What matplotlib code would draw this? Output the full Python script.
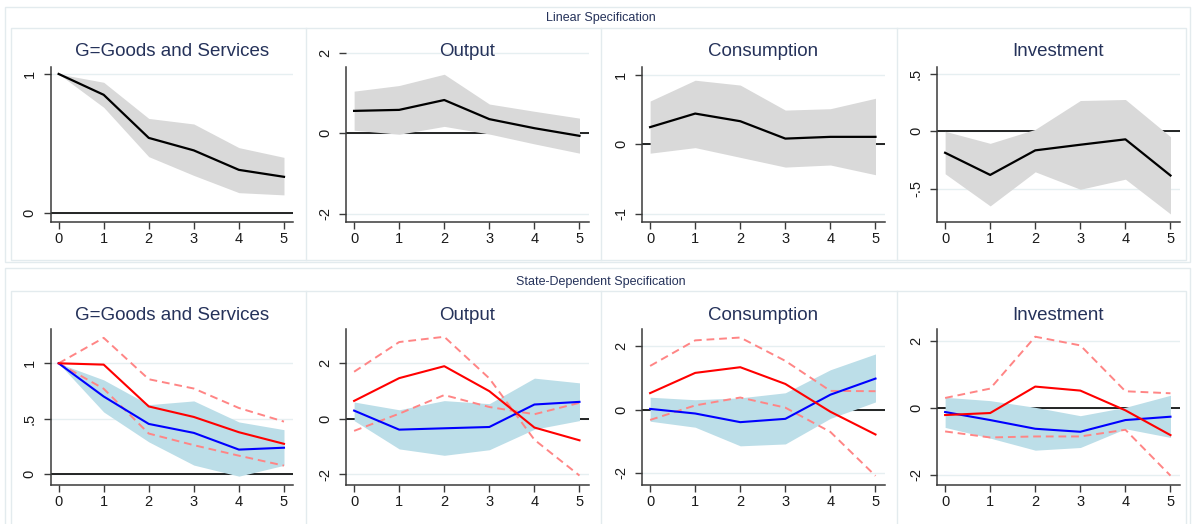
import matplotlib
matplotlib.use("Agg")
import matplotlib.pyplot as plt
from matplotlib.patches import Rectangle

plt.rcParams["font.family"] = ["Liberation Sans", "DejaVu Sans"]

W, H = 1192, 524
horizon = [0, 1, 2, 3, 4, 5]
titles = ["G=Goods and Services", "Output", "Consumption", "Investment"]

# ---- Linear specification: point estimate with confidence band ----
lin_irf = [
    [1.00, 0.85, 0.54, 0.45, 0.31, 0.26],
    [0.55, 0.575, 0.82, 0.345, 0.12, -0.07],
    [0.245, 0.44, 0.33, 0.08, 0.105, 0.105],
    [-0.187, -0.38, -0.166, -0.117, -0.07, -0.385],
]
lin_hi = [
    [1.00, 0.94, 0.68, 0.64, 0.47, 0.40],
    [1.04, 1.18, 1.46, 0.72, 0.54, 0.37],
    [0.62, 0.92, 0.85, 0.49, 0.51, 0.66],
    [0.00, -0.105, 0.017, 0.268, 0.277, -0.047],
]
lin_lo = [
    [1.00, 0.76, 0.405, 0.27, 0.146, 0.13],
    [0.07, -0.03, 0.165, -0.025, -0.27, -0.50],
    [-0.13, -0.05, -0.19, -0.33, -0.30, -0.44],
    [-0.37, -0.65, -0.353, -0.505, -0.417, -0.72],
]

# ---- State-dependent specification: two regimes ----
blue_irf = [
    [1.00, 0.70, 0.452, 0.371, 0.22, 0.237],
    [0.30, -0.386, -0.337, -0.29, 0.52, 0.615],
    [0.02, -0.126, -0.40, -0.295, 0.47, 0.98],
    [-0.12, -0.36, -0.62, -0.71, -0.36, -0.26],
]
blue_hi = [
    [1.00, 0.85, 0.626, 0.66, 0.47, 0.40],
    [0.61, 0.33, 0.66, 0.55, 1.47, 1.30],
    [0.39, 0.31, 0.37, 0.53, 1.26, 1.76],
    [0.32, 0.22, 0.02, -0.23, 0.02, 0.38],
]
blue_lo = [
    [1.00, 0.56, 0.29, 0.08, -0.02, 0.078],
    [-0.06, -1.08, -1.31, -1.11, -0.37, -0.06],
    [-0.37, -0.56, -1.15, -1.09, -0.28, 0.24],
    [-0.58, -0.90, -1.26, -1.18, -0.62, -0.88],
]
red_irf = [
    [1.00, 0.988, 0.61, 0.515, 0.377, 0.272],
    [0.65, 1.47, 1.90, 1.00, -0.31, -0.77],
    [0.52, 1.16, 1.34, 0.81, -0.07, -0.79],
    [-0.21, -0.15, 0.64, 0.52, -0.07, -0.81],
]
red_hi = [
    [1.00, 1.23, 0.856, 0.772, 0.596, 0.473],
    [1.70, 2.77, 2.96, 1.46, -0.75, -2.04],
    [1.38, 2.19, 2.28, 1.54, 0.59, 0.58],
    [0.30, 0.58, 2.13, 1.87, 0.50, 0.44],
]
red_lo = [
    [1.00, 0.77, 0.365, 0.26, 0.165, 0.075],
    [-0.43, 0.19, 0.86, 0.43, 0.17, 0.58],
    [-0.33, 0.13, 0.38, 0.06, -0.71, -2.10],
    [-0.70, -0.88, -0.85, -0.85, -0.65, -2.02],
]

lin_ticks = [[0, 1], [-2, 0, 2], [-1, 0, 1], [-0.5, 0, 0.5]]
lin_ticklabels = [["0", "1"], ["-2", "0", "2"], ["-1", "0", "1"], ["-.5", "0", ".5"]]
sd_ticks = [[0, 0.5, 1], [-2, 0, 2], [-2, 0, 2], [-2, 0, 2]]
sd_ticklabels = [["0", ".5", "1"], ["-2", "0", "2"], ["-2", "0", "2"], ["-2", "0", "2"]]

# axis limits and spine extents (y), per panel
lin_ylim = [(-0.065, 1.05), (-2.21, 2.07), (-1.12, 1.11), (-0.79, 0.56)]
lin_spine_top = [1.05, 1.64, 1.11, 0.56]
sd_ylim = [(-0.10, 1.31), (-2.38, 3.24), (-2.39, 2.55), (-2.30, 2.36)]
XLIM = (-0.18, 5.2)

NAVY = "#25325a"
FRAME = "#e3ebee"
GRID = "#e6eff1"
AXC = "#3a3a3a"

fig = plt.figure(figsize=(W / 100, H / 100), dpi=100)


def fx(px):
    return px / W


def fy(py):
    return 1 - py / H


def frame(x0, y0, x1, y1):
    fig.patches.append(Rectangle((fx(x0), fy(y1)), fx(x1) - fx(x0), fy(y0) - fy(y1),
                                 transform=fig.transFigure, fill=False,
                                 edgecolor=FRAME, linewidth=1.0, zorder=0))


# group frames and panel boxes
frame(5, 7, 1190, 262)
frame(11, 28, 1186, 260)
frame(5, 268, 1190, 540)
frame(11, 291, 1186, 540)
for xs in (306, 601, 897):
    fig.add_artist(plt.Line2D([fx(xs), fx(xs)], [fy(28), fy(260)], transform=fig.transFigure,
                              color=FRAME, lw=1.0))
    fig.add_artist(plt.Line2D([fx(xs), fx(xs)], [fy(291), fy(530)], transform=fig.transFigure,
                              color=FRAME, lw=1.0))

fig.text(fx(601), fy(18), "Linear Specification", ha="center", va="center", fontsize=9, color=NAVY)
fig.text(fx(601), fy(282), "State-Dependent Specification", ha="center", va="center",
         fontsize=9, color=NAVY)

lefts = [50.5, 346, 642, 937]
AXW = 242.5


def make_axes(left, top, bottom, ylim, spine_top, ticks, ticklabels, title, title_y):
    ylo, yhi = ylim
    # the axes box spans the data range; the left spine may stop below the top
    ax = fig.add_axes([fx(left), fy(bottom), AXW / W, (bottom - top) / H])
    ax.set_xlim(*XLIM)
    ax.set_ylim(ylo, yhi)
    ax.set_facecolor("none")
    for s in ("top", "right"):
        ax.spines[s].set_visible(False)
    ax.spines["left"].set_bounds(ylo, spine_top)
    for s in ("left", "bottom"):
        ax.spines[s].set_color(AXC)
        ax.spines[s].set_linewidth(1.1)
    ax.set_xticks(horizon)
    ax.set_yticks(ticks)
    ax.set_yticklabels(ticklabels, rotation=90, va="center")
    ax.tick_params(axis="both", colors=AXC, labelcolor="#1a1a1a", labelsize=10.5,
                   length=5, width=1.0)
    ax.tick_params(axis="x", pad=2)
    ax.tick_params(axis="y", pad=5)
    for t in ticks:
        ax.axhline(t, color=GRID, lw=1.0, zorder=0.5)
    ax.axhline(0, color="black", lw=1.2, zorder=1)
    fig.text(fx(left + AXW / 2), fy(title_y), title, ha="center", va="center",
             fontsize=13.5, color=NAVY)
    return ax


# --- top row ---
for i in range(4):
    ylo, yhi = lin_ylim[i]
    top_px = 222 - (yhi - ylo) / (lin_spine_top[i] - ylo) * (222 - 67)
    ax = make_axes(lefts[i], top_px, 222, lin_ylim[i], lin_spine_top[i],
                   lin_ticks[i], lin_ticklabels[i], titles[i], 52)
    ax.fill_between(horizon, lin_lo[i], lin_hi[i], color="#d9d9d9", lw=0, zorder=2)
    ax.plot(horizon, lin_irf[i], color="black", lw=1.6, zorder=3)

# --- bottom row ---
for i in range(4):
    ax = make_axes(lefts[i], 329, 485, sd_ylim[i], sd_ylim[i][1],
                   sd_ticks[i], sd_ticklabels[i], titles[i], 315)
    ax.fill_between(horizon, blue_lo[i], blue_hi[i], color="#bcdee8", lw=0, zorder=2)
    ax.plot(horizon, red_hi[i], color="#ff8585", lw=1.4, ls=(0, (4, 2.5)), zorder=3)
    ax.plot(horizon, red_lo[i], color="#ff8585", lw=1.4, ls=(0, (4, 2.5)), zorder=3)
    ax.plot(horizon, blue_irf[i], color="#0000ff", lw=1.5, zorder=4)
    ax.plot(horizon, red_irf[i], color="#ff0000", lw=1.5, zorder=4)

fig.savefig("out.png", dpi=100, facecolor="white")
